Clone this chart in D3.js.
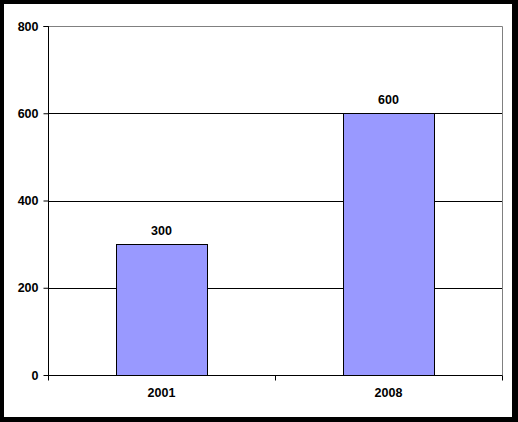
<!DOCTYPE html>
<html><head><meta charset="utf-8">
<script src="https://cdn.jsdelivr.net/npm/d3@7"></script>
<style>html,body{margin:0;padding:0;background:#fff;}svg{display:block;}</style>
</head><body>
<svg id="c" width="518" height="422"></svg>
<script>
const categories = ["2001", "2008"];
const values = [300, 600];
const yTicks = [0, 200, 400, 600, 800];

const svg = d3.select("#c");
const W = 518, H = 422;
// frame
svg.append("rect").attr("x",0).attr("y",0).attr("width",W).attr("height",H).attr("fill","#000");
svg.append("rect").attr("x",4).attr("y",4).attr("width",508).attr("height",413).attr("fill","#fff");

const m = {left:48, right:502, top:26, bottom:375};
const x = d3.scaleBand().domain(categories).range([m.left, m.right]).paddingInner(0).paddingOuter(0);
const y = d3.scaleLinear().domain([0, 800]).range([m.bottom, m.top]);
const font = "Arial, 'Liberation Sans', sans-serif";
const fs = "12.5px";

// gridlines
svg.append("g").selectAll("line").data(yTicks.filter(d => d > 0 && d < 800)).join("line")
  .attr("x1", m.left).attr("x2", m.right)
  .attr("y1", d => Math.round(y(d)) + 0.5).attr("y2", d => Math.round(y(d)) + 0.5)
  .attr("stroke", "#000").attr("stroke-width", 1);
// plot border top/right gray
svg.append("path").attr("d", `M${m.left},${m.top+0.5}H${m.right+0.5}V${m.bottom}`)
  .attr("fill","none").attr("stroke","#808080").attr("stroke-width",1);

// bars
const bw = x.bandwidth() * 0.4;
svg.append("g").selectAll("rect").data(values).join("rect")
  .attr("x", (d,i) => Math.round(x(categories[i]) + (x.bandwidth() - bw)/2) + 0.5)
  .attr("y", d => Math.round(y(d)) + 0.5)
  .attr("width", Math.round(bw))
  .attr("height", d => Math.round(y(0)) - Math.round(y(d)))
  .attr("fill", "#9999FF").attr("stroke", "#000").attr("stroke-width", 1);

// value labels
svg.append("g").selectAll("text").data(values).join("text")
  .attr("x", (d,i) => x(categories[i]) + x.bandwidth()/2)
  .attr("y", d => y(d) - 9)
  .attr("text-anchor","middle").attr("font-family",font).attr("font-weight","bold").attr("font-size",fs)
  .text(d => d);

// y axis
const yAxis = d3.axisLeft(y).tickValues(yTicks).tickSize(5).tickPadding(5);
const gy = svg.append("g").attr("transform",`translate(${m.left + 0.5},0)`).call(yAxis);
gy.select(".domain").attr("d", `M-5,${m.top+0.5}H0V${m.bottom+0.5}`).attr("stroke","#000");
gy.selectAll(".tick line").attr("stroke","#000");
gy.selectAll("text").attr("font-family",font).attr("font-weight","bold").attr("font-size",fs).attr("fill","#000");

// x axis
const xAxis = d3.axisBottom(x).tickSize(0).tickPadding(13);
const gx = svg.append("g").attr("transform",`translate(0,${m.bottom + 0.5})`).call(xAxis);
gx.select(".domain").attr("d", `M${m.left},0H${m.right+0.5}`).attr("stroke","#000");
gx.selectAll("text").attr("font-family",font).attr("font-weight","bold").attr("font-size",fs).attr("fill","#000");
// category boundary ticks
const bounds = [m.left, x(categories[1]), m.right];
gx.append("g").selectAll("line").data(bounds).join("line")
  .attr("x1", d => Math.round(d) + 0.5).attr("x2", d => Math.round(d) + 0.5)
  .attr("y1", 0).attr("y2", 5).attr("stroke","#000");
</script>
</body></html>
